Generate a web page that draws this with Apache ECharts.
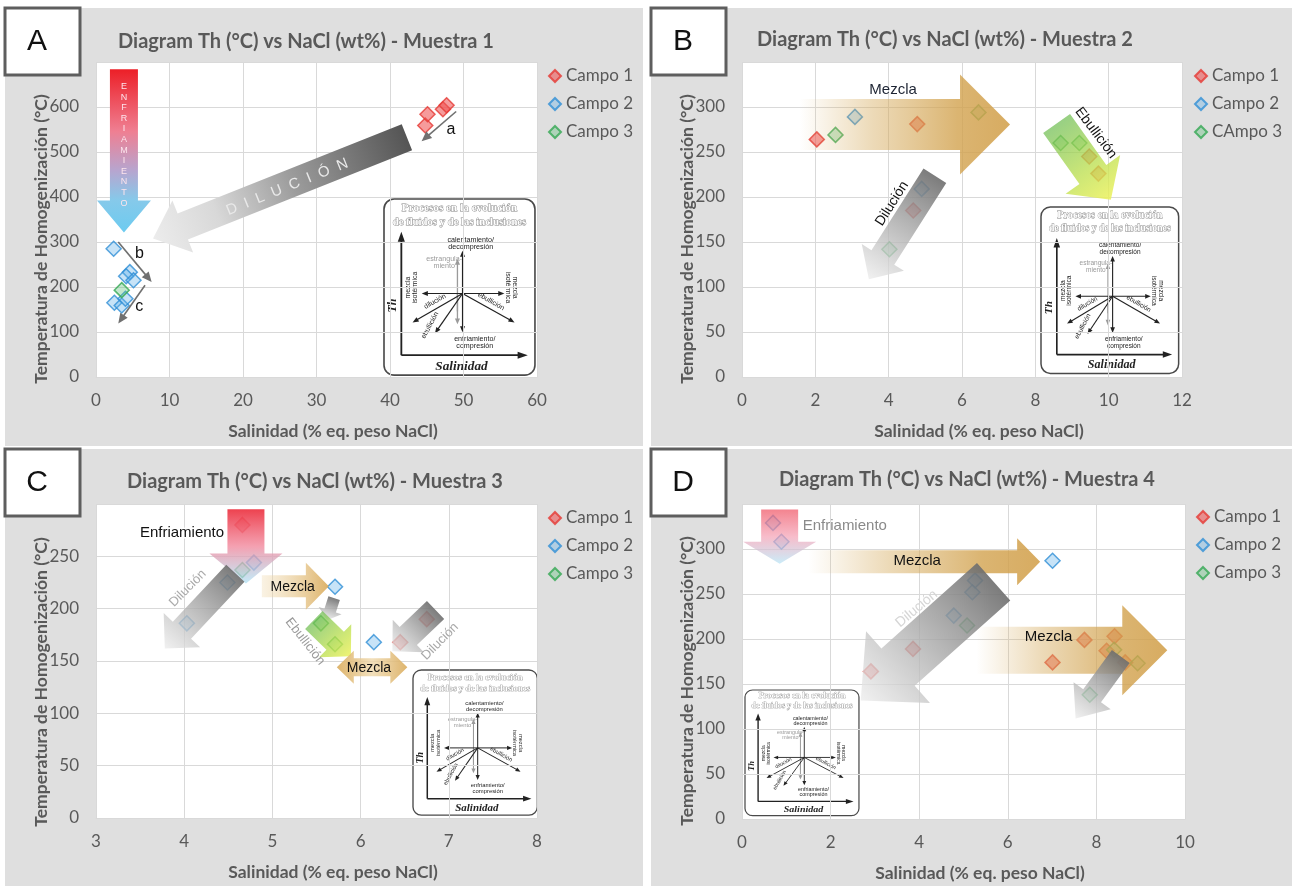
<!DOCTYPE html>
<html>
<head>
<meta charset="utf-8">
<script src="https://cdn.jsdelivr.net/npm/echarts@6/dist/echarts.min.js"></script>
<style>
  html, body { margin: 0; padding: 0; background: #fff; }
  #chart { width: 1292px; height: 886px; }
</style>
</head>
<body>
<div id="chart"></div>
<script>
// ---------- fluid inclusion data: [salinity wt% NaCl eq., Th °C] ----------
const legendNames  = ['Campo 1', 'Campo 2', 'Campo 3'];
const legendNamesB = ['Campo 1', 'Campo 2', 'CAmpo 3'];
const panelLetters = ['A', 'B', 'C', 'D'];
const panelTitles = [
  'Diagram Th (°C) vs NaCl (wt%) - Muestra 1',
  'Diagram Th (°C) vs NaCl (wt%) - Muestra 2',
  'Diagram Th (°C) vs NaCl (wt%) - Muestra 3',
  'Diagram Th (°C) vs NaCl (wt%) - Muestra 4'
];
const xTitle = 'Salinidad (% eq. peso NaCl)';
const yTitle = 'Temperatura de Homogenización (°C)';

// Muestra 1
const m1Campo1 = [[44.8, 559], [45.1, 584], [47.2, 595], [47.7, 604]];
const m1Campo2 = [[2.4, 285], [4.6, 233], [4.1, 224], [5.1, 215], [2.5, 165], [3.5, 159], [4.0, 174]];
const m1Campo3 = [[3.5, 193]];
// Muestra 2
const m2Campo1 = [[2.04, 264], [4.78, 281], [4.67, 185], [9.47, 245], [9.72, 226]];
const m2Campo2 = [[3.08, 289], [4.9, 209]];
const m2Campo3 = [[2.55, 269], [6.45, 294], [4.02, 142], [8.69, 260], [9.2, 260]];
// Muestra 3
const m3Campo1 = [[4.66, 280], [6.45, 168], [6.75, 190]];
const m3Campo2 = [[4.79, 244], [4.49, 225], [4.03, 186], [5.71, 221], [6.15, 168]];
const m3Campo3 = [[4.66, 237], [5.55, 186], [5.71, 166]];
// Muestra 4
const m4Campo1 = [[2.91, 164], [3.86, 189], [7.01, 174], [7.73, 199], [8.41, 203], [8.23, 187], [8.65, 174]];
const m4Campo2 = [[0.7, 329], [0.89, 308], [7.01, 287], [5.26, 265], [5.2, 252], [4.78, 226]];
const m4Campo3 = [[5.08, 215], [8.4, 188], [8.93, 173], [7.85, 138]];

// axis ranges: [min, max, step]
const xRanges = [[0, 60, 10], [0, 12, 2], [3, 8, 1], [0, 10, 2]];
const yRanges = [[0, 700, 100], [0, 350, 50], [0, 300, 50], [0, 350, 50]];

// ---------- process arrows (end points in axis units) ----------
const GRAY = [[0, 'rgba(110,110,110,0.9)'], [0.5, 'rgba(170,170,170,0.8)'], [1, 'rgba(236,236,236,0.75)']];
const TAN = [[0, 'rgba(214,172,95,0)'], [0.35, 'rgba(214,172,95,0.45)'], [0.75, 'rgba(210,162,78,0.8)'], [1, 'rgba(210,160,75,0.88)']];
const GREENY = [[0, 'rgba(112,190,84,0.72)'], [0.6, 'rgba(190,224,80,0.78)'], [1, 'rgba(238,242,92,0.85)']];

const arrowsA = [
  { from: [3.8, 684], to: [3.8, 321], w: 28, hw: 54, hl: 32,
    stops: [[0, '#ec1f27'], [0.38, '#ef7f92'], [0.62, '#b7a5cf'], [0.8, '#86c9ea'], [1, '#6ccbf0']] },
  { from: [42.3, 533], to: [7.76, 308], w: 28, hw: 56, hl: 32,
    stops: [[0, '#555555'], [0.45, '#9c9c9c'], [0.75, '#d8d8d8'], [1, '#ececec']] },
  { kind: 'line', from: [49.0, 590], to: [44.3, 524] },
  { kind: 'line', from: [3.03, 300], to: [7.57, 211] },
  { kind: 'line', from: [6.67, 204], to: [3.03, 119] }
];
const arrowsB = [
  { from: [1.58, 280.6], to: [7.31, 280.6], w: 51, hw: 100, hl: 50, stops: TAN },
  { from: [5.26, 223.6], to: [3.46, 108.5], w: 27, hw: 50, hl: 26, stops: GRAY },
  { from: [8.58, 281.7], to: [10.06, 197], w: 33, hw: 67, hl: 31, stops: GREENY }
];
const arrowsC = [
  { from: [4.70, 295], to: [4.70, 224], w: 37, hw: 73, hl: 30,
    stops: [[0, 'rgba(236,50,64,0.92)'], [0.5, 'rgba(242,140,160,0.82)'], [1, 'rgba(170,225,245,0.7)']] },
  { from: [4.58, 233.8], to: [3.78, 162], w: 25, hw: 50, hl: 25, stops: GRAY },
  { from: [4.88, 221.4], to: [5.64, 221.4], w: 22, hw: 47, hl: 23,
    stops: [[0, 'rgba(240,218,175,0.35)'], [1, 'rgba(218,172,92,0.92)']] },
  { from: [5.70, 210], to: [5.62, 189], w: 12, hw: 24, hl: 10, stops: GRAY },
  { from: [5.47, 189.2], to: [5.89, 154.6], w: 25, hw: 46, hl: 22, stops: GREENY },
  { from: [5.73, 144], to: [6.53, 144], w: 18, hw: 33, hl: 17, double: true,
    stops: [[0, 'rgba(218,172,92,0.9)'], [0.5, 'rgba(238,215,170,0.8)'], [1, 'rgba(218,172,92,0.9)']] },
  { from: [6.85, 198.8], to: [6.36, 159.4], w: 25, hw: 45, hl: 22, stops: GRAY }
];
const arrowsD = [
  { from: [0.85, 344], to: [0.85, 283.5], w: 37, hw: 73, hl: 22,
    stops: [[0, 'rgba(240,90,105,0.75)'], [0.5, 'rgba(244,160,180,0.7)'], [1, 'rgba(180,228,246,0.7)']] },
  { from: [1.5, 285.7], to: [6.73, 285.7], w: 23, hw: 47, hl: 23, stops: TAN },
  { from: [5.68, 263.6], to: [2.68, 131.8], w: 50, hw: 96, hl: 50, stops: GRAY },
  { from: [5.29, 187.5], to: [9.6, 187.5], w: 47, hw: 90, hl: 45, stops: TAN },
  { from: [8.55, 180.5], to: [7.53, 111.8], w: 22, hw: 46, hl: 28, stops: GRAY }
];

// ---------- arrow captions (anchor in axis units, angle in degrees) ----------
const notesA = [
  { text: 'E\nN\nF\nR\nI\nA\nM\nI\nE\nN\nT\nO', at: [3.8, 516], size: 9, color: '#fde4ec', lh: 10.6 },
  { text: 'D  I  L  U  C  I  Ó  N', at: [26, 422], rot: 22, size: 15, color: '#e9e9e9' },
  { text: 'a', at: [48.3, 549], size: 16, color: '#111' },
  { text: 'b', at: [5.9, 274.5], size: 16, color: '#111' },
  { text: 'c', at: [5.9, 155.6], size: 16, color: '#111' }
];
const notesB = [
  { text: 'Mezcla', at: [4.12, 318.8], size: 15, color: '#1d2433' },
  { text: 'Dilución', at: [4.09, 192.6], rot: 57.6, size: 14, color: '#111' },
  { text: 'Ebullición', at: [9.65, 271.2], rot: -53, size: 14, color: '#111' }
];
const notesC = [
  { text: 'Enfriamiento', at: [3.975, 272], size: 15, color: '#111', halo: true },
  { text: 'Dilución', at: [4.04, 219.5], rot: 45, size: 13, color: '#aaaaaa' },
  { text: 'Mezcla', at: [5.23, 221], size: 14, color: '#111' },
  { text: 'Ebullición', at: [5.37, 168.6], rot: -52, size: 13, color: '#9a9a9a' },
  { text: 'Mezcla', at: [6.095, 143.1], size: 14, color: '#111' },
  { text: 'Dilución', at: [6.9, 168.6], rot: 45, size: 13, color: '#a8a8a8' }
];
const notesD = [
  { text: 'Enfriamiento', at: [1.37, 325.6], size: 15, color: '#8a8a8a', align: 'left' },
  { text: 'Mezcla', at: [3.955, 287], size: 15, color: '#111' },
  { text: 'Dilución', at: [3.94, 233.7], rot: 40, size: 14, color: '#d6d6d6' },
  { text: 'Mezcla', at: [6.92, 202.3], size: 15, color: '#111' }
];

// ---------- layout ----------
const SANS = 'Lato, "Liberation Sans", sans-serif';
const ARIAL = '"Liberation Sans", Arial, sans-serif';
const SERIF = '"Liberation Serif", "DejaVu Serif", serif';
const TXT = '#595959';

const grids = [
  { left: 96, top: 62, width: 441, height: 315 },
  { left: 742, top: 62, width: 440, height: 315 },
  { left: 96, top: 504, width: 441, height: 314 },
  { left: 742, top: 504, width: 443, height: 315 }
];
const panelBoxes = [[5, 8, 638, 438], [651, 8, 641, 438], [5, 449, 638, 437], [651, 449, 641, 437]];
const titlePos = [[306, 42], [945, 40], [315, 482], [967, 480]];
const xTitlePos = [[333, 431], [979, 431], [333, 872], [980, 873]];
const yTitlePos = [[41, 239], [687, 239], [41, 682], [687, 681]];
const legendPos = [[548, 66], [1194, 66], [548, 508], [1196, 507]];
const insetPos = [[384, 199, 1.02, 0.995], [1041, 207, 0.93, 0.94], [413, 670, 0.84, 0.82], [745, 690, 0.77, 0.71]];

const markerStyles = [
  { color: 'rgba(240,82,82,0.72)', borderColor: '#e53935', borderWidth: 1.5 },
  { color: 'rgba(100,178,232,0.45)', borderColor: '#2f8fd6', borderWidth: 1.5 },
  { color: 'rgba(90,192,118,0.45)', borderColor: '#33a852', borderWidth: 1.5 }
];

function blockPoints(p0, p1, w, hw, hl, dbl) {
  const dx = p1[0] - p0[0], dy = p1[1] - p0[1];
  const len = Math.hypot(dx, dy), ux = dx / len, uy = dy / len, nx = -uy, ny = ux;
  const P = (t, s) => [p0[0] + ux * t + nx * s, p0[1] + uy * t + ny * s];
  if (dbl) {
    return [p0.slice(), P(hl, hw / 2), P(hl, w / 2), P(len - hl, w / 2), P(len - hl, hw / 2), p1.slice(),
            P(len - hl, -hw / 2), P(len - hl, -w / 2), P(hl, -w / 2), P(hl, -hw / 2)];
  }
  return [P(0, w / 2), P(len - hl, w / 2), P(len - hl, hw / 2), p1.slice(),
          P(len - hl, -hw / 2), P(len - hl, -w / 2), P(0, -w / 2)];
}

function lineArrow(p0, p1, color, lw, hl, hw) {
  const dx = p1[0] - p0[0], dy = p1[1] - p0[1];
  const len = Math.hypot(dx, dy), ux = dx / len, uy = dy / len, nx = -uy, ny = ux;
  const bx = p1[0] - ux * hl, by = p1[1] - uy * hl;
  return [
    { type: 'line', shape: { x1: p0[0], y1: p0[1], x2: bx + ux * 1, y2: by + uy * 1 },
      style: { stroke: color, lineWidth: lw } },
    { type: 'polygon', shape: { points: [[p1[0], p1[1]], [bx + nx * hw / 2, by + ny * hw / 2], [bx - nx * hw / 2, by - ny * hw / 2]] },
      style: { fill: color } }
  ];
}

function arrowRenderer(defs) {
  return function (params, api) {
    const a = defs[params.dataIndex];
    const p0 = api.coord([api.value(0), api.value(1)]);
    const p1 = api.coord([api.value(2), api.value(3)]);
    if (a.kind === 'line') {
      return { type: 'group', children: lineArrow(p0, p1, '#707070', 1.6, 10, 9) };
    }
    return {
      type: 'polygon',
      shape: { points: blockPoints(p0, p1, a.w, a.hw, a.hl, a.double) },
      style: {
        fill: { type: 'linear', x: p0[0], y: p0[1], x2: p1[0], y2: p1[1], global: true,
                colorStops: a.stops.map(s => ({ offset: s[0], color: s[1] })) }
      }
    };
  };
}

function noteRenderer(defs) {
  return function (params, api) {
    const n = defs[params.dataIndex];
    const p = api.coord([api.value(0), api.value(1)]);
    const style = {
      text: n.text, fill: n.color, fontSize: n.size, fontFamily: ARIAL,
      align: n.align || 'center', verticalAlign: 'middle',
      textAlign: n.align || 'center', textVerticalAlign: 'middle'
    };
    if (n.lh) style.lineHeight = n.lh;
    if (n.halo) { style.stroke = '#ffffff'; style.lineWidth = 3; }
    return { type: 'text', x: p[0], y: p[1], rotation: (n.rot || 0) * Math.PI / 180, style: style };
  };
}

function txt(t, x, y, opts) {
  const o = Object.assign({ fill: '#222', font: '7px ' + ARIAL, align: 'center' }, opts || {});
  const el = {
    type: 'text', x: x, y: y, rotation: o.rot || 0,
    style: { text: t, fill: o.fill, font: o.font, align: o.align, verticalAlign: 'middle',
             textAlign: o.align, textVerticalAlign: 'middle' }
  };
  if (o.stroke) { el.style.stroke = o.stroke; el.style.lineWidth = o.lineWidth; }
  if (o.lineHeight) el.style.lineHeight = o.lineHeight;
  return el;
}

// schematic legend of fluid-evolution processes
function insetChildren() {
  const ch = [];
  const K = '#222', G = '#9a9a9a';
  ch.push({ type: 'rect', shape: { x: 0, y: 0, width: 148, height: 177, r: 10 },
            style: { fill: '#ffffff', stroke: '#4a4a4a', lineWidth: 1.6 } });
  ch.push(txt('Procesos en la evolución', 74, 9, { font: 'bold 11px ' + SERIF, fill: '#ffffff', stroke: '#858585', lineWidth: 0.8 }));
  ch.push(txt('de fluidos y de las inclusiones', 74, 23, { font: 'bold 10.5px ' + SERIF, fill: '#ffffff', stroke: '#858585', lineWidth: 0.8 }));
  // axes
  ch.push(...lineArrow([17, 157], [17, 33], K, 1.8, 10, 7));
  ch.push(...lineArrow([17, 157], [141, 157], K, 1.8, 10, 7));
  ch.push(txt('Th', 9, 107, { font: 'bold italic 12px ' + SERIF, fill: K, rot: Math.PI / 2 }));
  ch.push(txt('Salinidad', 76, 168, { font: 'bold italic 13px ' + SERIF, fill: K }));
  // process vectors from a common origin
  const c = [77, 95];
  ch.push(...lineArrow([72, 113], [72, 60], G, 1.3, 6, 5));
  ch.push(...lineArrow([72, 95], [72, 126], G, 1.3, 6, 5));
  [[77, 52], [77, 134], [37, 95], [118, 95], [28, 124], [128, 124], [50, 135]].forEach(p => {
    ch.push(...lineArrow(c, p, K, 1.2, 6, 5));
  });
  ch.push(txt('calentamiento/', 85, 41, { fill: K }));
  ch.push(txt('decompresión', 85, 48, { fill: K }));
  ch.push(txt('estrangula-', 59, 60, { fill: G }));
  ch.push(txt('miento', 59, 67, { fill: G }));
  ch.push(txt('enfriamiento/', 89, 141, { fill: K }));
  ch.push(txt('compresión', 89, 148, { fill: K }));
  ch.push(txt('mezcla\nisotérmica', 27, 89, { fill: K, rot: Math.PI / 2, lineHeight: 7 }));
  ch.push(txt('mezcla\nisotérmica', 125, 89, { fill: K, rot: -Math.PI / 2, lineHeight: 7 }));
  ch.push(txt('dilución', 50, 103, { fill: K, rot: 30 * Math.PI / 180 }));
  ch.push(txt('ebullición', 105, 103, { fill: K, rot: -30 * Math.PI / 180 }));
  ch.push(txt('ebullición', 45, 127, { fill: K, rot: 62 * Math.PI / 180 }));
  return ch;
}

const scatterSets = [
  [m1Campo1, m1Campo2, m1Campo3],
  [m2Campo1, m2Campo2, m2Campo3],
  [m3Campo1, m3Campo2, m3Campo3],
  [m4Campo1, m4Campo2, m4Campo3]
];
const arrowSets = [arrowsA, arrowsB, arrowsC, arrowsD];
const noteSets = [notesA, notesB, notesC, notesD];

const xAxes = [], yAxes = [], series = [], legends = [], graphics = [];

grids.forEach((g, i) => {
  const [x0, x1, xs] = xRanges[i];
  const [y0, y1, ys] = yRanges[i];
  xAxes.push({
    type: 'value', gridIndex: i, min: x0, max: x1, interval: xs,
    axisLine: { show: true, lineStyle: { color: '#d9d9d9', width: 1 } },
    axisTick: { show: false },
    axisLabel: { color: TXT, fontSize: 17, fontFamily: SANS, margin: 15 },
    splitLine: { show: true, lineStyle: { color: '#d9d9d9', width: 1 } }
  });
  yAxes.push({
    type: 'value', gridIndex: i, min: y0, max: y1, interval: ys,
    axisLine: { show: false }, axisTick: { show: false },
    axisLabel: { color: TXT, fontSize: 17, fontFamily: SANS, margin: 17, showMaxLabel: false },
    splitLine: { show: true, lineStyle: { color: '#d9d9d9', width: 1 } }
  });
  const names = i === 1 ? legendNamesB : legendNames;
  scatterSets[i].forEach((pts, k) => {
    series.push({
      name: names[k], type: 'scatter', xAxisIndex: i, yAxisIndex: i,
      symbol: 'diamond', symbolSize: 15, data: pts,
      itemStyle: markerStyles[k], z: 3
    });
  });
  series.push({
    type: 'custom', xAxisIndex: i, yAxisIndex: i, silent: true, z: 5, clip: false,
    renderItem: arrowRenderer(arrowSets[i]),
    data: arrowSets[i].map(a => [a.from[0], a.from[1], a.to[0], a.to[1]]),
    encode: { x: [0, 2], y: [1, 3] }
  });
  series.push({
    type: 'custom', xAxisIndex: i, yAxisIndex: i, silent: true, z: 6, clip: false,
    renderItem: noteRenderer(noteSets[i]),
    data: noteSets[i].map(n => n.at),
    encode: { x: 0, y: 1 }
  });
  legends.push({
    data: names, orient: 'vertical', left: legendPos[i][0], top: legendPos[i][1],
    padding: 0, itemGap: 8, itemWidth: 12, itemHeight: 12,
    textStyle: { color: TXT, fontSize: 17, fontFamily: SANS, lineHeight: 20 },
    selectedMode: false
  });

  const pb = panelBoxes[i];
  graphics.push({ type: 'rect', z: -10, shape: { x: pb[0], y: pb[1], width: pb[2], height: pb[3] },
                  style: { fill: '#dfdfdf' } });
  graphics.push({ type: 'rect', z: 60, shape: { x: pb[0], y: pb[1], width: 75, height: 67 },
                  style: { fill: '#ffffff', stroke: '#5e5e5e', lineWidth: 3 } });
  graphics.push({ type: 'text', z: 61, x: pb[0] + 32, y: pb[1] + 34,
                  style: { text: panelLetters[i], font: '30px ' + ARIAL, fill: '#111',
                           align: 'center', verticalAlign: 'middle', textAlign: 'center', textVerticalAlign: 'middle' } });
  graphics.push({ type: 'text', z: 20, x: titlePos[i][0], y: titlePos[i][1],
                  style: { text: panelTitles[i], font: 'bold 20px ' + SANS, fill: TXT,
                           align: 'center', verticalAlign: 'middle', textAlign: 'center', textVerticalAlign: 'middle' } });
  graphics.push({ type: 'text', z: 20, x: xTitlePos[i][0], y: xTitlePos[i][1],
                  style: { text: xTitle, font: 'bold 17.5px ' + SANS, fill: TXT,
                           align: 'center', verticalAlign: 'middle', textAlign: 'center', textVerticalAlign: 'middle' } });
  graphics.push({ type: 'text', z: 20, x: yTitlePos[i][0], y: yTitlePos[i][1], rotation: Math.PI / 2,
                  style: { text: yTitle, font: 'bold 17.5px ' + SANS, fill: TXT,
                           align: 'center', verticalAlign: 'middle', textAlign: 'center', textVerticalAlign: 'middle' } });
  const ip = insetPos[i];
  graphics.push({ type: 'group', z: 50, x: ip[0], y: ip[1], scaleX: ip[2], scaleY: ip[3], children: insetChildren() });
});

const chart = echarts.init(document.getElementById('chart'), null, { renderer: 'canvas' });
chart.setOption({
  animation: false,
  backgroundColor: '#ffffff',
  grid: grids.map(g => Object.assign({ show: true, backgroundColor: '#ffffff', borderWidth: 0, containLabel: false }, g)),
  xAxis: xAxes,
  yAxis: yAxes,
  legend: legends,
  series: series,
  graphic: { elements: graphics }
});
</script>
</body>
</html>
